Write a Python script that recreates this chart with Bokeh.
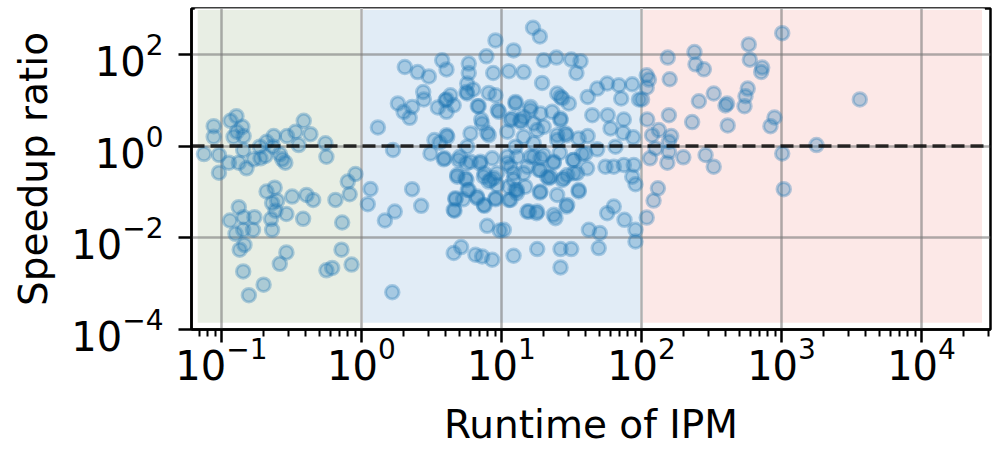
from bokeh.plotting import figure
from bokeh.models import BoxAnnotation, Span, FixedTicker, ColumnDataSource
from bokeh.embed import file_html
from bokeh.resources import INLINE

# ---------------- data ----------------
# runtime of IPM < 1
runtime_fast = [
    0.088, 0.088, 0.116, 0.128, 0.141, 0.129, 0.122, 0.144, 0.075, 0.096,
    0.096, 0.113, 0.133, 0.143, 0.151, 0.170, 0.188, 0.190, 0.206, 0.210,
    0.236, 0.234, 0.261, 0.272, 0.286, 0.294, 0.338, 0.356, 0.387, 0.432,
    0.553, 0.562, 0.210, 0.240, 0.230, 0.250, 0.243, 0.291, 0.320, 0.405,
    0.452, 0.652, 0.824, 0.798, 0.906, 0.133, 0.115, 0.144, 0.172, 0.168,
    0.143, 0.126, 0.226, 0.230, 0.383, 0.728, 0.146, 0.135, 0.291, 0.261,
    0.143, 0.200, 0.157, 0.562, 0.618, 0.720, 0.850,
]
speedup_fast = [
    2.72, 1.59, 3.55, 4.49, 2.63, 2.05, 1.59, 1.65, 0.67, 0.64,
    0.263, 0.434, 0.434, 0.82, 0.327, 0.514, 0.97, 0.54, 0.61, 1.24,
    1.65, 0.97, 0.67, 0.514, 0.434, 1.65, 2.05, 1.05, 3.55, 1.82,
    1.15, 0.585, 0.102, 0.124, 0.057, 0.064, 0.039, 0.033, 0.079, 0.086,
    0.067, 0.067, 0.089, 0.168, 0.246, 0.0465, 0.0238, 0.0282, 0.0282, 0.0149,
    0.0149, 0.0122, 0.0256, 0.0149, 0.0259, 0.0215, 0.0070, 0.0055, 0.0048, 0.0027,
    0.00185, 0.00095, 0.00056, 0.00195, 0.0022, 0.0055, 0.0026,
]

# runtime of IPM between 1 and 100
runtime_mid = [
    1.31, 1.68, 1.16, 1.11, 1.47, 1.73, 2.30, 2.67, 1.66, 2.04,
    2.52, 3.03, 1.82, 2.00, 2.21, 2.30, 2.76, 2.79, 3.77, 4.05,
    3.51, 4.05, 4.05, 4.32, 5.84, 5.84, 5.69, 5.62, 6.28, 6.77,
    7.81, 8.73, 9.06, 8.11, 9.06, 9.41, 7.16, 7.90, 6.01, 4.05,
    3.32, 3.62, 3.11, 3.87, 5.04, 5.69, 5.62, 4.83, 5.62, 7.00,
    7.56, 8.11, 8.81, 9.31, 5.74, 4.69, 5.32, 4.62, 6.70, 7.56,
    9.06, 7.90, 9.72, 4.56, 5.15, 6.52, 7.28, 8.59, 16.8, 18.8,
    12.2, 20.0, 24.7, 31.5, 36.7, 34.3, 11.3, 14.4, 19.5, 25.0,
    27.2, 30.3, 41.3, 48.3, 56.9, 68.9, 85.9, 71.6, 96.0, 12.6,
    11.9, 16.1, 19.0, 23.0, 26.4, 44.5, 57.4, 74.8, 60.1, 74.0,
    87.3, 41.3, 35.6, 29.1, 25.0, 20.0, 17.0, 13.7, 11.0, 65.2,
    48.3, 37.7, 32.5, 26.1, 23.6, 40.9, 34.7, 29.5, 27.2, 21.8,
    55.3, 63.4, 74.8, 88.1, 85.9, 90.6, 18.8, 25.0, 35.6, 29.1,
    24.3, 15.3, 17.8, 56.9, 63.4, 75.6, 42.1, 50.4, 90.6, 90.6,
    12.2, 18.0, 26.4, 31.5, 49.5, 26.4, 11.6, 12.2, 12.9, 11.6,
    17.0, 19.0, 15.3, 21.2, 12.6, 17.0, 10.4, 11.0, 14.4, 19.0,
    3.98, 4.56, 5.69, 6.88, 7.28, 8.11, 4.10, 9.57, 11.6, 12.6,
    3.92, 4.95, 6.01, 7.08, 8.59, 11.0, 12.2, 4.83, 5.53, 7.48,
    8.35, 9.31, 11.3, 5.84, 6.70, 4.69, 4.56, 7.48, 9.06, 11.3,
    12.9, 16.1, 13.7, 26.4, 26.4, 28.6, 25.0, 14.4, 18.0, 12.9,
    16.1, 20.0, 23.6, 32.8, 39.8, 14.4, 18.5, 22.4, 27.9, 32.8,
    12.6, 14.8, 19.0, 35.6, 29.5, 15.7, 18.0, 23.6,
]
speedup_mid = [
    2.55, 0.82, 0.116, 0.054, 0.0238, 0.0373, 0.115, 0.0497, 0.00065, 53,
    41, 33, 8.5, 5.57, 4.12, 7.15, 15.1, 10.4, 74, 47,
    6.94, 5.57, 10.4, 12.8, 62.8, 39.2, 23.1, 15.1, 17.1, 7.41,
    90.5, 39.2, 201, 14.4, 12.8, 6.06, 3.8, 1.95, 1.89, 1.73,
    1.35, 1.18, 0.69, 0.514, 0.585, 0.97, 0.42, 0.234, 0.182, 0.42,
    0.255, 0.168, 0.199, 0.255, 0.11, 0.069, 0.069, 0.039, 0.073, 0.0497,
    0.069, 0.0182, 0.0144, 0.00465, 0.00628, 0.00427, 0.00392, 0.00332, 380, 246,
    122, 74, 85, 77, 71, 39.2, 43, 41, 23.8, 14.0,
    10.9, 8.48, 11.8, 17.9, 23.1, 21.2, 22.3, 10.9, 10.4, 9.18,
    4.0, 6.06, 5.14, 5.57, 4.0, 4.72, 4.72, 3.8, 2.43, 1.95,
    1.55, 1.65, 1.47, 1.73, 1.35, 2.63, 3.11, 3.38, 2.05, 0.97,
    0.85, 0.67, 0.497, 0.715, 0.434, 0.327, 0.255, 0.234, 0.182, 0.199,
    0.355, 0.355, 0.386, 0.386, 0.215, 0.147, 0.0966, 0.086, 0.102, 0.048,
    0.0268, 0.0373, 0.0344, 0.0344, 0.048, 0.0246, 0.0149, 0.0127, 0.0149, 0.0083,
    0.00406, 0.00568, 0.00568, 0.00568, 0.00597, 0.00226, 0.355, 0.182, 0.0937, 0.067,
    0.585, 0.301, 0.355, 0.215, 0.97, 1.15, 0.0149, 0.585, 4.33, 0.54,
    10.0, 7.78, 14.0, 7.41, 3.11, 1.73, 1.59, 5.57, 3.67, 8.48,
    0.54, 0.497, 0.456, 0.456, 0.54, 0.42, 0.255, 0.215, 0.199, 0.215,
    0.182, 0.142, 0.13, 0.11, 0.079, 0.073, 0.0406, 0.0522, 0.073, 0.067,
    0.11, 7.15, 3.67, 11.8, 3.67, 1.89, 1.73, 1.59, 2.23, 0.585,
    0.585, 0.64, 0.456, 0.497, 0.69, 0.255, 0.301, 0.215, 0.199, 0.255,
    0.11, 0.13, 0.102, 0.11, 0.0522, 0.0373, 0.0373, 0.0316,
]

# runtime of IPM > 100
runtime_slow = [
    1012, 584, 239, 154, 243, 279, 594, 728, 716, 159,
    109, 113, 109, 101, 257, 328, 409, 398, 574, 553,
    544, 3625, 157, 110, 230, 413, 891, 834, 133, 119,
    163, 157, 126, 157, 115, 153, 199, 287, 328, 1012,
    1778, 131, 122, 109, 1038,
]
speedup_slow = [
    290, 165, 112, 85, 60.6, 47.2, 76.7, 51.4, 41.2, 28.6,
    34.9, 28.2, 18.9, 10.4, 9.51, 14.0, 8.48, 7.67, 17.9, 12.2,
    7.41, 10.4, 4.72, 3.8, 3.33, 2.82, 4.2, 2.72, 2.23, 1.73,
    1.65, 1.24, 0.89, 0.75, 0.54, 0.434, 0.568, 0.64, 0.355, 0.69,
    1.05, 0.12, 0.0647, 0.0276, 0.115,
]

region_edges = [1, 100]          # runtime thresholds of the shaded regions
reference_speedup = 1            # dashed line
x_major = [1e-1, 1e0, 1e1, 1e2, 1e3, 1e4]
y_major = [1e-4, 1e-2, 1e0, 1e2]
x_title = "Runtime of IPM"
y_title = "Speedup ratio"

# ---------------- figure ----------------
runtime = runtime_fast + runtime_mid + runtime_slow
speedup = speedup_fast + speedup_mid + speedup_slow
src = ColumnDataSource(data=dict(runtime=runtime, speedup=speedup))

FONT = "DejaVu Sans"
p = figure(width=996, height=449, x_axis_type="log", y_axis_type="log",
           x_range=(0.0611, 31100), y_range=(1e-4, 1e3),
           output_backend="svg", toolbar_location=None,
           min_border_left=191, min_border_right=6,
           min_border_top=8, min_border_bottom=120)
p.background_fill_color = "white"
p.border_fill_color = "white"
p.outline_line_color = "black"
p.outline_line_width = 2.5
p.outline_line_alpha = 1.0

# shaded regions (drawn beneath everything)
span_bottom = 1.3e-4
boxes = [
    (0.066, region_edges[0], "#e8eee4"),
    (region_edges[0], region_edges[1], "#e1ecf6"),
    (region_edges[1], 27700, "#fce8e7"),
]
for left, right, col in boxes:
    b = BoxAnnotation(left=left, right=right, bottom=span_bottom, top=1e3,
                      fill_color=col, fill_alpha=1.0,
                      line_color="white", line_width=3, line_alpha=1.0,
                      level="image")
    p.add_layout(b)

# grid
for g in (p.xgrid[0], p.ygrid[0]):
    g.grid_line_color = "#7a7a7a"
    g.grid_line_alpha = 0.6
    g.grid_line_width = 2.5

# points
p.scatter("runtime", "speedup", source=src, marker="circle", size=13.5,
          fill_color="#1f77b4", fill_alpha=0.3,
          line_color="#1f77b4", line_alpha=0.32, line_width=3)

# dashed reference line
p.add_layout(Span(location=reference_speedup, dimension="width",
                  line_color="black", line_alpha=0.8, line_width=3.4,
                  line_dash="13 6"))

# axes
x_minor = []
for dec in [0.01, 0.1, 1, 10, 100, 1000, 10000]:
    for m in range(2, 10):
        x_minor.append(m * dec)
p.xaxis[0].ticker = FixedTicker(ticks=x_major, minor_ticks=x_minor)
p.yaxis[0].ticker = FixedTicker(ticks=y_major, minor_ticks=[])

for ax in (p.xaxis[0], p.yaxis[0]):
    ax.axis_line_color = "black"
    ax.axis_line_width = 2.5
    ax.major_tick_line_color = "black"
    ax.major_tick_line_width = 2.5
    ax.major_tick_in = 0
    ax.major_tick_out = 13
    ax.minor_tick_line_color = "black"
    ax.minor_tick_line_width = 2
    ax.minor_tick_in = 0
    ax.minor_tick_out = 7
    ax.major_label_text_font = FONT
    ax.major_label_text_font_size = "40px"
    ax.major_label_text_color = "black"
    ax.axis_label_text_font = FONT
    ax.axis_label_text_font_size = "39px"
    ax.axis_label_text_font_style = "normal"
    ax.axis_label_text_color = "black"

p.xaxis[0].axis_label = x_title
p.yaxis[0].axis_label = y_title
p.xaxis[0].major_label_standoff = -6
p.xaxis[0].axis_label_standoff = 19
p.yaxis[0].major_label_standoff = 15
p.yaxis[0].axis_label_standoff = 12

open("out.html", "w").write(file_html(p, INLINE, title="Speedup ratio"))
